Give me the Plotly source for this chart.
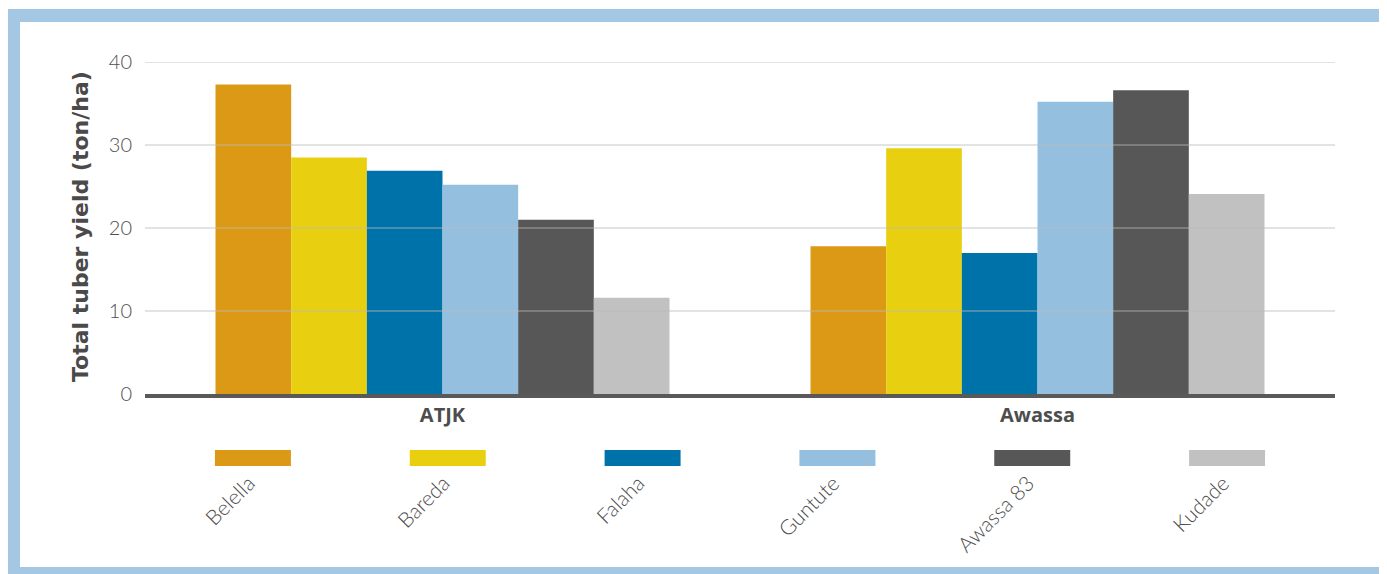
import plotly.graph_objects as go

sites = ["ATJK", "Awassa"]
varieties = ["Belella", "Bareda", "Falaha", "Guntute", "Awassa 83", "Kudade"]
belella = [37.3, 17.8]
bareda = [28.5, 29.6]
falaha = [26.9, 17.0]
guntute = [25.2, 35.2]
awassa83 = [21.0, 36.6]
kudade = [11.6, 24.1]
y_ticks = [0, 10, 20, 30, 40]

series = [belella, bareda, falaha, guntute, awassa83, kudade]
colors = ["#DC9915", "#E8D010", "#0072AA", "#95BFDF", "#575757", "#C1C1C1"]

OFF = 8  # default page body margin
W, H = 1387 - OFF, 574 - OFF
# plot area in page pixels: x 145..1335, y 62..394
ML, MT = 145 - OFF, 62 - OFF
MR = W - (1335 - OFF)
MB = 0
PW, PH = W - ML - MR, H - MT - MB


def px_x(x):  # page pixel -> paper
    return (x - OFF - ML) / PW


def px_y(y):
    return (H - MB - (y - OFF)) / PH


fig = go.Figure()
for name, vals, col in zip(varieties, series, colors):
    fig.add_trace(go.Bar(x=sites, y=vals, name=name, marker=dict(color=col, line=dict(width=0)),
                         xaxis="x", yaxis="y", showlegend=False))

# legend swatches drawn as a small bar row with rotated category labels
fig.add_trace(go.Bar(x=varieties, y=[1] * len(varieties), marker=dict(color=colors, line=dict(width=0)),
                     width=0.39, xaxis="x2", yaxis="y2", showlegend=False, hoverinfo="skip"))

for v in y_ticks[1:]:
    fig.add_shape(type="line", xref="x domain", yref="y", x0=0, x1=1, y0=v, y1=v,
                  line=dict(color="rgba(185,185,185,0.54)", width=1.3), layer="above")

# outer frame
fig.add_shape(type="rect", xref="paper", yref="paper",
              x0=px_x(13.5), x1=px_x(1391.5), y0=px_y(573.5), y1=px_y(15.5),
              line=dict(color="#A4C8E4", width=13), layer="below")

fig.add_annotation(text="<b>Total tuber yield (ton/ha)</b>", textangle=-90,
                   xref="paper", yref="paper", x=px_x(80), y=px_y(227),
                   xanchor="center", yanchor="middle",
                   showarrow=False, font=dict(family="DejaVu Sans", size=22, color="#4a4a4a"))

fig.update_layout(
    width=W, height=H,
    margin=dict(l=ML, r=MR, t=MT, b=MB, autoexpand=False),
    paper_bgcolor="white", plot_bgcolor="rgba(0,0,0,0)",
    barmode="group", bargap=0.237, bargroupgap=0,
    xaxis=dict(domain=[0, 1], anchor="y", type="category", showline=True, linewidth=4,
               linecolor="#595959", showgrid=False, ticks="", ticklabelstandoff=0,
               tickfont=dict(family="Open Sans", size=20, color="#4d4d4d", weight="bold"),
               automargin=False, fixedrange=True),
    yaxis=dict(domain=[px_y(394), 1], anchor="x", range=[0, 40], tickvals=y_ticks,
               showgrid=False, zeroline=False, showline=False, ticks="",
               ticklabelstandoff=12,
               tickfont=dict(family="Lato", size=20, color="#505050", weight=300),
               automargin=False, fixedrange=True),
    xaxis2=dict(domain=[0, 1], anchor="y2", type="category", range=[-0.554, 5.554],
                showline=False, showgrid=False, zeroline=False, ticks="", tickangle=-45,
                ticklabelstandoff=0, ticklabelshift=-4,
                tickfont=dict(family="Lato", size=21, color="#4d4d4d", weight=300),
                automargin=False, fixedrange=True),
    yaxis2=dict(domain=[px_y(466), px_y(450)], anchor="x2", range=[0, 1], visible=False,
                fixedrange=True),
)

fig.write_html("out.html")
